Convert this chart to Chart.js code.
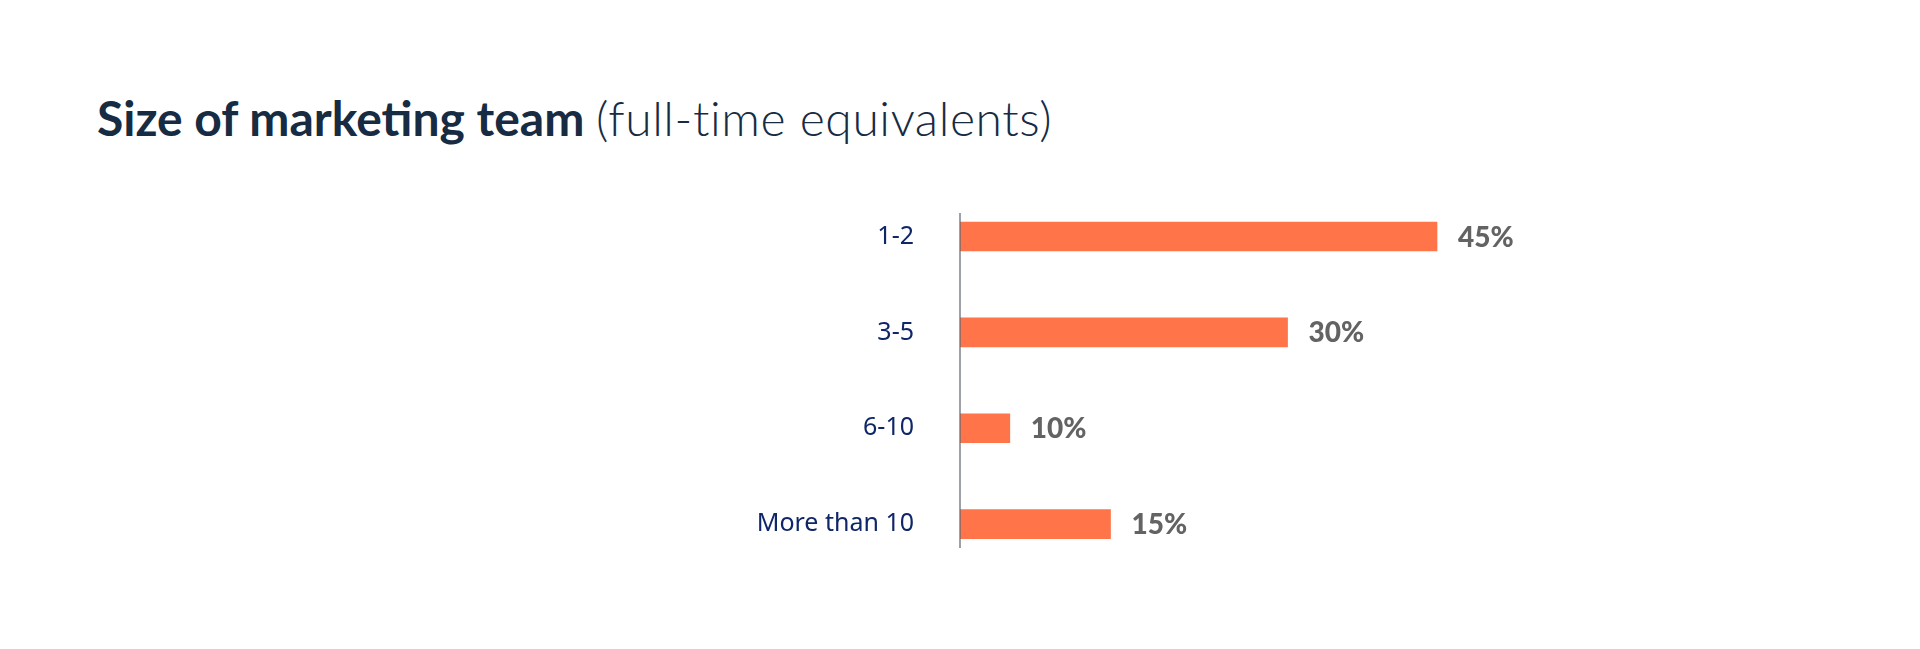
<!DOCTYPE html>
<html>
<head>
<meta charset="utf-8">
<script src="https://cdn.jsdelivr.net/npm/chart.js@4.4.0/dist/chart.umd.min.js"></script>
<style>
  html, body { margin: 0; padding: 0; background: #fff; }
  body { width: 1920px; height: 649px; position: relative; overflow: hidden; }
  #title {
    position: absolute; left: 97px; top: 94px; margin: 0;
    font-family: Lato, sans-serif; font-size: 48px; line-height: 48px;
    color: #172b42; white-space: nowrap;
  }
  #title b { font-weight: 700; }
  #title span { font-weight: 300; letter-spacing: 0.6px; }
  #chart { position: absolute; left: 0; top: 0; }
</style>
</head>
<body>
<h1 id="title"><b>Size of marketing team</b> <span>(full-time equivalents)</span></h1>
<canvas id="chart" width="1920" height="649"></canvas>
<script>
// -------- data --------
const categories  = ['1-2', '3-5', '6-10', 'More than 10'];
const barValues   = [45, 30.9, 4.7, 14.2];      // bar lengths as drawn, in %
const valueLabels = ['45%', '30%', '10%', '15%']; // printed labels
const axisMax = 50;

// Vertical axis line (shorter than the category band) + value labels at bar ends
const axisAndLabels = {
  id: 'axisAndLabels',
  afterDatasetsDraw(chart) {
    const { ctx, chartArea, scales: { y } } = chart;
    const step = y.getPixelForValue(1) - y.getPixelForValue(0);
    const top = y.getPixelForValue(0) - step * 0.245;
    const bottom = y.getPixelForValue(categories.length - 1) + step * 0.25;

    ctx.save();
    ctx.strokeStyle = '#5b6470';
    ctx.lineWidth = 1.2;
    ctx.beginPath();
    ctx.moveTo(chartArea.left, top);
    ctx.lineTo(chartArea.left, bottom);
    ctx.stroke();

    ctx.font = '900 28px Lato, sans-serif';
    ctx.fillStyle = '#636363';
    ctx.textBaseline = 'middle';
    ctx.textAlign = 'left';
    chart.getDatasetMeta(0).data.forEach((bar, i) => {
      ctx.fillText(valueLabels[i], bar.x + 21, bar.y + 1);
    });
    ctx.restore();
  }
};

new Chart(document.getElementById('chart'), {
  type: 'bar',
  data: {
    labels: categories,
    datasets: [{
      data: barValues,
      backgroundColor: '#ff7448',
      barThickness: 29,
      borderWidth: 0
    }]
  },
  options: {
    indexAxis: 'y',
    responsive: false,
    animation: false,
    layout: { padding: { top: 188.6, bottom: 77, left: 0, right: 430 } },
    plugins: { legend: { display: false }, tooltip: { enabled: false } },
    scales: {
      x: { display: false, min: 0, max: axisMax },
      y: {
        afterFit(scale) { scale.width = 960; },
        grid: { display: false, drawTicks: false },
        border: { display: false },
        ticks: {
          color: '#0f2668',
          font: { family: 'Noto Sans', size: 25 },
          padding: 46,
          crossAlign: 'near'
        }
      }
    }
  },
  plugins: [axisAndLabels]
});
</script>
</body>
</html>
